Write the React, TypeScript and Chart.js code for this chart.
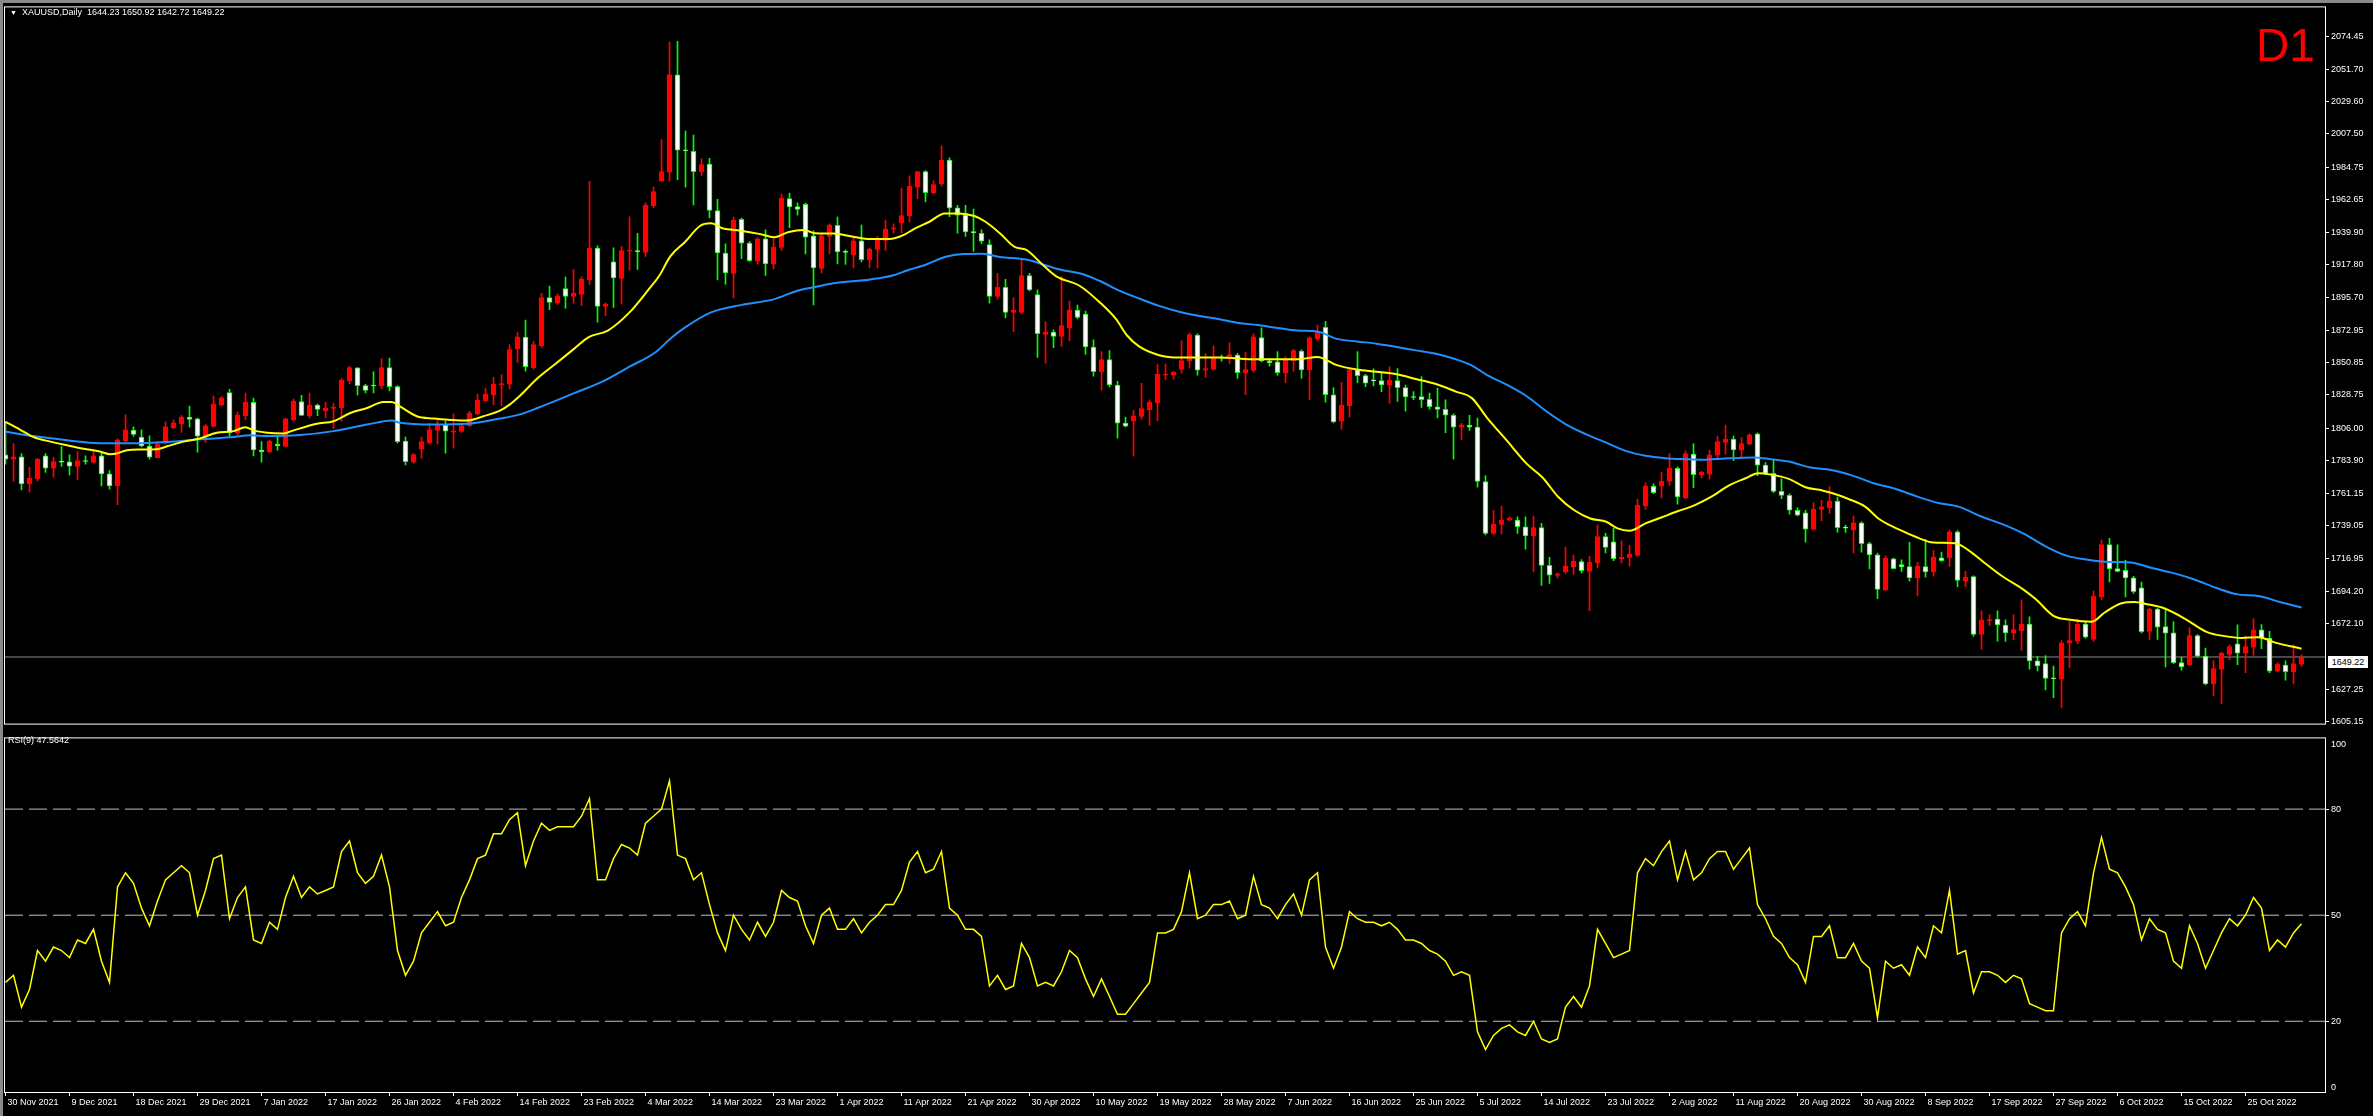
import React, { useEffect, useRef } from 'react';
import { Chart, registerables } from 'chart.js';

Chart.register(...registerables);

// ---------- DATA ----------
const tickLabels = [
  '30 Nov 2021', '9 Dec 2021', '18 Dec 2021', '29 Dec 2021', '7 Jan 2022', '17 Jan 2022', '26 Jan 2022',
  '4 Feb 2022', '14 Feb 2022', '23 Feb 2022', '4 Mar 2022', '14 Mar 2022', '23 Mar 2022', '1 Apr 2022',
  '11 Apr 2022', '21 Apr 2022', '30 Apr 2022', '10 May 2022', '19 May 2022', '28 May 2022', '7 Jun 2022',
  '16 Jun 2022', '25 Jun 2022', '5 Jul 2022', '14 Jul 2022', '23 Jul 2022', '2 Aug 2022', '11 Aug 2022',
  '20 Aug 2022', '30 Aug 2022', '8 Sep 2022', '17 Sep 2022', '27 Sep 2022', '6 Oct 2022', '15 Oct 2022',
  '25 Oct 2022',
];
const barsPerLabel = 8;

const priceTicks = [
  2074.45, 2051.7, 2029.6, 2007.5, 1984.75, 1962.65, 1939.9, 1917.8, 1895.7, 1872.95, 1850.85,
  1828.75, 1806.0, 1783.9, 1761.15, 1739.05, 1716.95, 1694.2, 1672.1, 1627.25, 1605.15,
];

const opens = [
  1787.6, 1784.7, 1786.3, 1767.8, 1771.2, 1786.9, 1778.6, 1783.1, 1782.9, 1779.7, 1783.6, 1782.5, 1786.9, 1774.6, 1766.4, 1797.1, 1804.6, 1799.8, 1793.7, 1785.8,
  1795.8, 1806.2, 1808.9, 1813.6, 1812.3, 1799.8, 1807.1, 1821.7, 1830.3, 1802.8, 1814.5, 1823.6, 1791.0, 1789.7, 1795.1, 1793.5, 1811.8, 1824.2, 1814.5, 1821.7,
  1817.9, 1819.5, 1819.9, 1838.2, 1847.3, 1835.1, 1835.1, 1835.1, 1847.5, 1834.4, 1797.1, 1782.7, 1791.5, 1796.0, 1804.4, 1808.2, 1803.2, 1803.7, 1807.7, 1815.7,
  1824.7, 1828.7, 1835.5, 1836.0, 1860.3, 1868.3, 1847.3, 1862.4, 1895.4, 1891.6, 1901.5, 1896.1, 1897.6, 1907.4, 1929.3, 1889.3, 1919.8, 1908.5, 1927.2, 1927.2,
  1926.3, 1958.2, 1975.1, 1981.2, 2048.0, 1996.3, 1995.6, 1981.6, 1986.8, 1955.0, 1925.9, 1911.9, 1948.9, 1932.7, 1920.7, 1935.6, 1918.2, 1929.7, 1963.1, 1957.7,
  1959.3, 1937.6, 1915.3, 1937.2, 1944.8, 1926.6, 1924.5, 1934.2, 1921.4, 1928.4, 1934.5, 1942.4, 1946.7, 1951.4, 1971.0, 1981.6, 1967.0, 1973.3, 1989.6, 1956.8,
  1951.8, 1940.3, 1939.4, 1931.7, 1896.1, 1902.4, 1885.2, 1885.2, 1910.5, 1897.4, 1870.1, 1871.7, 1868.7, 1874.6, 1886.8, 1884.1, 1861.5, 1844.6, 1852.9, 1835.5,
  1809.4, 1811.1, 1813.9, 1818.6, 1823.3, 1842.3, 1842.3, 1846.1, 1851.8, 1869.6, 1845.7, 1846.1, 1854.3, 1854.0, 1855.9, 1843.9, 1845.5, 1868.0, 1852.0, 1851.3,
  1843.9, 1852.2, 1858.8, 1845.9, 1867.1, 1875.0, 1828.8, 1810.7, 1821.3, 1846.1, 1841.9, 1838.5, 1838.5, 1835.5, 1838.5, 1833.7, 1827.4, 1827.6, 1825.6, 1820.6,
  1818.8, 1814.8, 1806.6, 1808.0, 1806.6, 1769.4, 1733.9, 1740.0, 1742.9, 1742.9, 1738.4, 1732.1, 1737.8, 1712.0, 1705.0, 1707.5, 1710.9, 1714.5, 1707.9, 1713.6,
  1731.7, 1728.0, 1716.3, 1717.4, 1718.8, 1752.7, 1766.2, 1766.2, 1769.4, 1778.4, 1758.1, 1788.1, 1773.9, 1774.5, 1787.4, 1796.2, 1798.5, 1790.8, 1794.9, 1802.1,
  1780.6, 1775.0, 1762.6, 1759.9, 1749.7, 1747.9, 1736.6, 1750.2, 1751.5, 1756.0, 1737.7, 1736.2, 1741.1, 1726.9, 1719.2, 1695.1, 1716.5, 1712.5, 1711.1, 1703.4,
  1711.1, 1707.5, 1717.2, 1717.0, 1735.0, 1701.2, 1704.3, 1664.6, 1674.1, 1675.2, 1671.1, 1665.5, 1667.3, 1671.8, 1646.5, 1644.7, 1634.5, 1634.1, 1658.7, 1660.1,
  1671.8, 1661.2, 1690.6, 1726.2, 1709.7, 1708.6, 1703.4, 1696.6, 1666.8, 1682.0, 1670.0, 1665.7, 1645.4, 1644.0, 1663.9, 1649.9, 1630.7, 1640.9, 1651.0, 1658.3,
  1651.9, 1656.0, 1667.8, 1662.1, 1639.5, 1643.6, 1639.1, 1644.23,
];
const highs = [
  1810.2, 1795.3, 1788.6, 1779.1, 1785.2, 1788.6, 1785.9, 1793.3, 1787.6, 1789.9, 1786.9, 1789.9, 1789.2, 1776.8, 1798.7, 1815.0, 1806.8, 1804.8, 1800.7, 1796.5,
  1810.2, 1811.6, 1814.5, 1821.1, 1812.9, 1808.4, 1828.1, 1827.6, 1832.6, 1817.0, 1829.9, 1826.5, 1796.7, 1797.6, 1801.0, 1812.9, 1825.8, 1828.5, 1829.9, 1822.4,
  1823.8, 1823.1, 1839.9, 1848.2, 1847.5, 1836.0, 1844.6, 1853.6, 1854.0, 1835.1, 1799.8, 1788.6, 1799.8, 1809.3, 1811.1, 1810.7, 1815.7, 1808.4, 1817.5, 1829.2,
  1833.3, 1840.7, 1842.7, 1863.1, 1871.4, 1880.0, 1865.4, 1898.3, 1903.3, 1897.7, 1909.4, 1914.6, 1909.6, 1974.9, 1930.8, 1891.6, 1929.5, 1930.4, 1950.7, 1939.4,
  1960.2, 1971.0, 2003.6, 2070.4, 2070.8, 2009.4, 2006.7, 1990.5, 1990.7, 1962.7, 1932.2, 1950.5, 1949.8, 1933.8, 1936.3, 1941.7, 1937.2, 1966.3, 1967.0, 1960.2,
  1960.0, 1941.0, 1938.7, 1945.8, 1950.5, 1928.1, 1936.0, 1945.1, 1929.3, 1937.2, 1948.4, 1945.8, 1970.4, 1978.7, 1981.9, 1982.3, 1975.3, 1999.3, 1991.1, 1958.6,
  1958.6, 1955.9, 1941.7, 1934.9, 1911.9, 1907.8, 1895.4, 1920.9, 1911.9, 1900.6, 1878.9, 1873.3, 1910.0, 1892.9, 1890.2, 1886.1, 1866.5, 1858.3, 1859.0, 1838.0,
  1813.6, 1818.1, 1836.7, 1825.4, 1849.5, 1850.0, 1844.8, 1865.8, 1871.0, 1870.5, 1857.0, 1862.4, 1855.9, 1864.4, 1857.2, 1858.1, 1870.5, 1874.6, 1853.6, 1858.3,
  1854.7, 1859.9, 1859.5, 1868.5, 1876.6, 1879.1, 1833.7, 1837.3, 1846.8, 1858.3, 1842.8, 1846.6, 1843.9, 1848.0, 1846.8, 1835.5, 1831.0, 1841.2, 1829.9, 1833.3,
  1825.4, 1815.7, 1809.3, 1814.8, 1812.9, 1773.4, 1749.7, 1752.4, 1745.2, 1745.2, 1745.2, 1745.7, 1740.7, 1717.5, 1706.8, 1724.4, 1719.0, 1715.9, 1718.1, 1739.6,
  1733.9, 1737.3, 1728.7, 1725.6, 1757.2, 1768.5, 1767.8, 1775.7, 1788.6, 1779.5, 1790.4, 1795.3, 1776.4, 1790.8, 1800.5, 1808.0, 1800.5, 1799.4, 1802.1, 1802.8,
  1782.4, 1784.0, 1771.2, 1761.0, 1751.3, 1749.7, 1754.9, 1756.5, 1766.0, 1758.7, 1739.5, 1745.9, 1741.8, 1727.8, 1720.4, 1718.5, 1717.0, 1715.8, 1727.8, 1714.0,
  1729.8, 1722.2, 1721.0, 1736.2, 1735.7, 1707.9, 1704.8, 1680.8, 1678.1, 1680.8, 1674.7, 1678.1, 1688.3, 1676.8, 1649.7, 1650.1, 1642.9, 1660.5, 1673.4, 1675.2,
  1672.9, 1694.4, 1729.4, 1730.5, 1726.0, 1715.4, 1704.5, 1700.5, 1682.6, 1682.6, 1682.0, 1673.4, 1649.2, 1669.1, 1664.6, 1655.3, 1646.5, 1652.6, 1657.6, 1671.3,
  1663.5, 1675.6, 1671.4, 1666.8, 1645.2, 1646.5, 1657.6, 1650.92,
];
const lows = [
  1781.3, 1769.6, 1763.7, 1762.1, 1769.8, 1775.7, 1772.3, 1779.7, 1773.9, 1770.5, 1781.3, 1782.0, 1766.4, 1764.2, 1753.6, 1796.7, 1800.5, 1793.1, 1784.7, 1785.6,
  1794.9, 1805.5, 1803.0, 1806.8, 1789.5, 1796.0, 1806.8, 1821.5, 1800.5, 1801.2, 1811.8, 1786.9, 1782.7, 1789.2, 1790.8, 1793.3, 1810.5, 1814.5, 1812.9, 1814.5,
  1813.2, 1805.5, 1810.7, 1836.4, 1828.7, 1830.1, 1830.1, 1832.8, 1831.5, 1795.6, 1780.7, 1782.0, 1785.2, 1794.9, 1794.9, 1788.8, 1792.2, 1803.0, 1807.1, 1815.2,
  1824.2, 1822.0, 1821.3, 1832.8, 1850.9, 1845.0, 1846.4, 1861.3, 1887.0, 1890.7, 1887.9, 1891.6, 1889.8, 1904.4, 1878.5, 1883.0, 1888.6, 1890.9, 1914.1, 1914.6,
  1923.6, 1957.0, 1974.9, 1975.1, 1976.2, 1971.0, 1958.8, 1978.7, 1950.0, 1907.4, 1904.4, 1895.2, 1922.0, 1920.2, 1918.2, 1910.5, 1915.0, 1927.7, 1943.3, 1951.8,
  1925.2, 1890.4, 1912.3, 1925.4, 1918.4, 1918.0, 1915.7, 1919.8, 1915.7, 1915.5, 1927.7, 1939.4, 1939.9, 1947.1, 1963.1, 1960.9, 1966.5, 1971.7, 1950.7, 1939.4,
  1937.2, 1927.0, 1932.2, 1891.6, 1894.3, 1881.4, 1872.1, 1884.1, 1899.9, 1854.3, 1850.5, 1861.1, 1861.9, 1865.8, 1880.7, 1856.5, 1841.6, 1831.9, 1834.2, 1799.0,
  1806.8, 1786.8, 1812.1, 1807.8, 1811.1, 1838.9, 1839.4, 1843.6, 1847.0, 1842.3, 1840.7, 1845.9, 1851.8, 1850.2, 1840.0, 1828.8, 1844.3, 1851.3, 1848.4, 1842.3,
  1837.1, 1845.0, 1840.0, 1825.4, 1866.0, 1823.8, 1809.6, 1805.0, 1813.6, 1837.1, 1834.4, 1834.9, 1831.0, 1823.1, 1824.2, 1817.5, 1825.4, 1820.2, 1819.0, 1812.9,
  1802.8, 1784.7, 1798.3, 1804.4, 1765.5, 1732.8, 1733.2, 1733.5, 1742.5, 1733.9, 1723.1, 1707.5, 1698.2, 1699.6, 1703.4, 1706.2, 1705.7, 1706.8, 1680.9, 1710.2,
  1720.4, 1715.2, 1713.6, 1711.4, 1718.1, 1750.2, 1761.0, 1758.1, 1766.7, 1753.8, 1757.6, 1765.1, 1771.8, 1771.2, 1784.7, 1788.1, 1783.6, 1786.3, 1794.4, 1773.4,
  1774.1, 1761.7, 1757.6, 1747.0, 1745.9, 1727.8, 1736.2, 1742.5, 1747.5, 1734.6, 1734.6, 1720.4, 1721.0, 1709.5, 1689.2, 1694.8, 1709.5, 1707.9, 1701.2, 1691.0,
  1703.9, 1704.5, 1714.7, 1711.3, 1697.3, 1697.3, 1663.5, 1654.4, 1670.7, 1660.1, 1659.8, 1661.0, 1653.7, 1640.9, 1639.7, 1626.6, 1621.4, 1614.7, 1641.8, 1658.3,
  1662.1, 1659.8, 1688.7, 1700.7, 1707.5, 1690.3, 1692.8, 1665.7, 1661.2, 1661.2, 1642.4, 1644.7, 1640.2, 1643.6, 1649.2, 1630.0, 1622.6, 1617.2, 1647.4, 1644.0,
  1638.4, 1650.4, 1654.9, 1638.4, 1639.1, 1633.4, 1630.7, 1642.72,
];
const closes = [
  1784.7, 1786.3, 1767.8, 1771.6, 1784.5, 1778.6, 1783.1, 1782.7, 1779.9, 1783.8, 1783.1, 1786.9, 1774.6, 1766.4, 1798.0, 1804.8, 1801.7, 1793.7, 1786.1, 1794.9,
  1806.8, 1809.6, 1813.6, 1812.0, 1800.5, 1807.5, 1822.4, 1826.7, 1802.8, 1815.0, 1823.8, 1791.0, 1789.7, 1797.1, 1793.7, 1812.3, 1824.5, 1814.7, 1821.7, 1818.8,
  1819.7, 1820.4, 1838.9, 1847.5, 1835.1, 1831.7, 1834.8, 1847.5, 1834.4, 1796.7, 1782.9, 1787.9, 1796.7, 1804.8, 1808.2, 1803.9, 1804.1, 1807.7, 1816.3, 1825.1,
  1829.2, 1836.0, 1836.4, 1859.7, 1868.5, 1848.0, 1863.1, 1895.4, 1892.0, 1896.5, 1896.1, 1898.3, 1907.8, 1929.3, 1889.3, 1890.9, 1908.9, 1927.5, 1927.7, 1926.8,
  1958.6, 1967.9, 1981.6, 2048.0, 1996.3, 1995.9, 1981.6, 1986.4, 1955.0, 1925.9, 1912.3, 1948.4, 1932.7, 1920.7, 1935.6, 1918.4, 1929.9, 1963.4, 1957.5, 1955.7,
  1936.7, 1915.7, 1937.6, 1945.1, 1926.6, 1926.3, 1934.2, 1921.4, 1928.6, 1934.9, 1942.1, 1942.8, 1951.6, 1971.5, 1981.6, 1967.2, 1972.8, 1989.6, 1956.8, 1951.8,
  1940.3, 1939.9, 1934.0, 1896.1, 1902.4, 1885.2, 1886.8, 1910.5, 1900.6, 1870.6, 1871.7, 1868.7, 1876.2, 1886.8, 1881.8, 1861.5, 1844.6, 1852.9, 1835.5, 1809.4,
  1807.3, 1814.3, 1819.3, 1823.8, 1842.8, 1842.8, 1844.1, 1852.2, 1870.1, 1845.7, 1846.8, 1854.3, 1854.0, 1856.3, 1843.9, 1846.1, 1868.5, 1852.0, 1850.7, 1843.9,
  1852.9, 1859.0, 1845.9, 1867.8, 1871.7, 1828.8, 1810.2, 1821.5, 1846.1, 1841.9, 1836.7, 1838.3, 1835.5, 1838.7, 1833.7, 1827.4, 1826.9, 1825.4, 1820.6, 1818.8,
  1814.8, 1806.6, 1808.2, 1806.6, 1769.4, 1733.9, 1740.0, 1742.9, 1744.1, 1738.4, 1732.1, 1737.8, 1712.0, 1705.2, 1706.2, 1711.4, 1714.7, 1708.4, 1714.0, 1731.7,
  1724.2, 1716.5, 1717.4, 1719.7, 1753.1, 1766.2, 1761.7, 1769.6, 1778.4, 1758.8, 1788.5, 1774.1, 1775.7, 1787.6, 1796.7, 1798.5, 1791.0, 1795.3, 1801.4, 1780.6,
  1775.0, 1762.6, 1759.9, 1749.7, 1746.3, 1736.8, 1750.4, 1752.0, 1756.0, 1737.7, 1737.5, 1741.1, 1726.9, 1719.2, 1695.5, 1716.7, 1709.7, 1710.9, 1703.4, 1711.3,
  1707.5, 1717.4, 1715.2, 1735.0, 1701.6, 1703.9, 1664.6, 1674.7, 1674.7, 1671.1, 1665.7, 1668.0, 1671.8, 1646.5, 1643.1, 1634.5, 1634.3, 1658.9, 1660.5, 1671.8,
  1662.8, 1691.0, 1726.2, 1709.5, 1707.9, 1703.4, 1693.9, 1666.6, 1682.0, 1669.6, 1665.5, 1645.4, 1642.4, 1663.9, 1649.7, 1630.7, 1641.3, 1651.7, 1656.4, 1651.9,
  1656.4, 1667.8, 1662.1, 1639.5, 1644.3, 1639.1, 1644.7, 1649.22,
];

// yellow (fast) moving average: [bar, price]
const maFast: [number, number][] = [
  [0, 1810.2], [1.8, 1805.0], [3.5, 1799.8], [5.6, 1796.7], [7.7, 1794.2], [9.75, 1791.9], [11.8, 1789.9], [13.1, 1788.1],
  [13.9, 1788.6], [15.2, 1790.8], [16.8, 1791.3], [18.9, 1791.5], [20.2, 1793.5], [22.25, 1796.7], [24.3, 1798.9], [26.4, 1802.8],
  [28.5, 1803.9], [30, 1806.6], [31, 1804.4], [32.7, 1802.8], [34.75, 1802.3], [36, 1804.4], [38.9, 1808.9], [41, 1810.7],
  [43.1, 1816.3], [45.2, 1819.7], [47.25, 1823.8], [48.3, 1823.8], [49.3, 1820.8], [51.4, 1814.1], [53.5, 1812.5], [55.6, 1811.6],
  [57.7, 1811.1], [59.75, 1814.1], [61.8, 1817.9], [63.1, 1822.4], [64.2, 1827.6], [66.5, 1840.1], [68.8, 1850.2], [71.1, 1860.4],
  [72.9, 1868.3], [75.3, 1872.8], [78, 1885.2], [80.4, 1901.0], [81.7, 1910.1], [83.1, 1923.6], [85, 1933.8], [86.8, 1944.4],
  [88.2, 1946.2], [89.6, 1942.8], [91.9, 1941.2], [94.2, 1939.0], [96.1, 1936.7], [97.9, 1940.3], [99.8, 1941.7], [101.2, 1939.4],
  [103.5, 1939.2], [105.8, 1937.2], [108.1, 1935.4], [110.5, 1935.4], [112.3, 1938.3], [113.7, 1942.8], [115.5, 1947.3], [117.4, 1953.0],
  [119.2, 1953.0], [121.1, 1951.2], [122.5, 1947.3], [124.3, 1939.4], [126.2, 1929.9], [127.6, 1928.1], [129.4, 1919.1], [131.3, 1910.1],
  [134.3, 1903.3], [136.8, 1892.0], [138.8, 1880.7], [140.2, 1869.4], [141.7, 1861.9], [144.2, 1855.9], [146.7, 1854.3], [151.6, 1854.3],
  [156.5, 1853.1], [161.5, 1853.1], [164, 1854.7], [166.4, 1849.1], [168.9, 1846.1], [171.4, 1844.6], [173.9, 1842.8], [176.3, 1839.6],
  [178.8, 1836.2], [181.3, 1831.0], [183.3, 1826.5], [185.2, 1813.0], [187.7, 1797.2], [190.2, 1781.3], [192.1, 1772.3], [194.1, 1758.8],
  [196.1, 1749.7], [198.1, 1744.1], [200.1, 1741.8], [201.5, 1737.3], [203, 1735.7], [205, 1740.7], [206.9, 1744.6], [209, 1749.0],
  [211.1, 1753.1], [213.3, 1759.2], [215.4, 1766.6], [217.5, 1771.6], [219.1, 1775.0], [220.7, 1774.1], [222.9, 1771.2], [225, 1765.5],
  [227.1, 1763.3], [228.2, 1761.7], [230.3, 1757.6], [232.5, 1752.0], [234.1, 1744.1], [236.8, 1736.2], [238.9, 1731.2], [241, 1727.6],
  [243.7, 1727.1], [245.3, 1722.6], [247.4, 1713.6], [249.6, 1704.5], [252.2, 1695.5], [253.8, 1688.7], [256, 1677.4], [258.1, 1674.7],
  [260.8, 1673.4], [262.4, 1679.7], [264.5, 1686.0], [266.1, 1686.9], [267.7, 1685.4], [269.9, 1682.4], [272.5, 1675.2], [275.2, 1666.2],
  [277.4, 1663.5], [279.5, 1662.3], [281.6, 1662.8], [283.8, 1658.9], [287, 1654.9],
];

// blue (slow) moving average: [bar, price]
const maSlow: [number, number][] = [
  [0, 1803.5], [3.5, 1800.5], [7.7, 1797.6], [11.8, 1795.6], [16, 1795.6], [20.2, 1796.5], [24.3, 1798.3], [28.5, 1799.8],
  [30.6, 1801.0], [32.7, 1800.5], [36.8, 1801.2], [41, 1803.9], [45.2, 1808.4], [48.3, 1811.1], [49.3, 1809.6], [53.5, 1808.4],
  [57.7, 1808.9], [61.8, 1812.5], [64.2, 1815.2], [66.5, 1819.7], [71.1, 1829.9], [74.8, 1838.3], [78, 1848.0], [81.3, 1858.1],
  [83.1, 1867.2], [85, 1875.1], [88.2, 1885.2], [91.9, 1890.2], [96.1, 1894.3], [98.9, 1899.9], [101.2, 1902.6], [103.5, 1905.1],
  [108.1, 1907.8], [110.9, 1910.5], [112.8, 1914.1], [115.1, 1918.0], [117.4, 1923.2], [119.7, 1925.2], [122.1, 1925.4], [124.3, 1923.2],
  [127.6, 1921.4], [130.4, 1916.8], [131.8, 1914.6], [134.8, 1911.2], [136.8, 1906.7], [139.3, 1899.9], [141.7, 1894.7], [144.2, 1889.7],
  [146.7, 1885.7], [149.1, 1882.9], [151.6, 1880.7], [154.1, 1878.0], [156.5, 1876.6], [159, 1874.6], [161.5, 1872.8], [164, 1872.1],
  [166.4, 1867.1], [168.9, 1865.3], [171.4, 1863.8], [173.9, 1861.5], [176.3, 1859.2], [178.8, 1856.9], [181.3, 1853.1], [183.2, 1849.1],
  [185.2, 1842.3], [187.7, 1835.5], [190.2, 1827.6], [192.6, 1817.5], [195.1, 1808.4], [197.6, 1801.7], [200.1, 1796.0], [202.5, 1790.4],
  [205, 1787.0], [207.5, 1785.4], [210, 1784.7], [212.2, 1784.3], [214.9, 1785.2], [218.6, 1785.9], [220.7, 1784.7], [222.9, 1783.1],
  [225.5, 1779.1], [228.2, 1777.3], [230.9, 1773.4], [233.5, 1768.2], [236.2, 1764.4], [238.9, 1759.2], [241.6, 1754.7], [244.2, 1752.0],
  [246.9, 1745.6], [249.6, 1740.2], [252.2, 1733.9], [254.9, 1725.3], [257.6, 1718.6], [260.3, 1715.8], [262.9, 1714.3], [265.6, 1714.0],
  [268.3, 1710.2], [270.9, 1706.8], [273.6, 1702.3], [276.3, 1696.6], [279, 1692.1], [281.6, 1691.0], [284.3, 1686.9], [287, 1683.1],
];

// RSI(9), one value per bar
const rsiValues = [
  31, 33, 24, 29, 40, 37, 41, 40, 38, 43, 42, 46, 37, 31, 58, 62, 59, 52, 47, 54,
  60, 62, 64, 62, 50, 57, 66, 67, 49, 55, 58, 43, 42, 48, 46, 55, 61, 55, 58, 56,
  57, 58, 68, 71, 62, 59, 61, 67, 58, 40, 33, 37, 45, 48, 51, 47, 48, 55, 60, 66,
  67, 73, 73, 77, 79, 64, 71, 76, 74, 75, 75, 75, 78, 83, 60, 60, 66, 70, 69, 67,
  76, 78, 80, 88, 67, 66, 60, 62, 53, 45, 40, 50, 46, 43, 48, 44, 48, 57, 55, 54,
  47, 42, 50, 52, 46, 46, 49, 45, 48, 50, 53, 53, 57, 65, 68, 62, 63, 68, 52, 50,
  46, 46, 44, 30, 33, 29, 30, 42, 38, 30, 31, 30, 34, 40, 38, 32, 27, 32, 27, 22,
  22, 25, 28, 31, 45, 45, 46, 51, 62, 49, 50, 53, 53, 54, 49, 50, 61, 53, 52, 49,
  53, 56, 50, 60, 62, 41, 35, 41, 51, 49, 48, 48, 47, 48, 46, 43, 43, 42, 40, 39,
  37, 33, 34, 33, 17, 12, 16, 18, 19, 17, 16, 20, 15, 14, 15, 24, 27, 24, 30, 46,
  42, 38, 39, 40, 62, 66, 64, 68, 71, 60, 68, 60, 62, 66, 68, 68, 63, 66, 69, 53,
  49, 44, 42, 38, 36, 31, 44, 44, 47, 38, 38, 42, 37, 35, 21, 37, 35, 36, 33, 41,
  38, 47, 45, 57, 39, 40, 28, 34, 34, 33, 31, 33, 32, 25, 24, 23, 23, 45, 49, 51,
  47, 62, 72, 63, 62, 58, 53, 43, 49, 46, 45, 37, 35, 47, 42, 35, 40, 45, 49, 47,
  50, 55, 52, 40, 43, 41, 45, 47.56,
];
const rsiLevels = [20, 50, 80];
const rsiAxisTicks = [100, 80, 50, 20, 0];

const lastPrice = 1649.22;
const headerText = 'XAUUSD,Daily  1644.23 1650.92 1642.72 1649.22';
const rsiText = 'RSI(9) 47.5642';

// ---------- LAYOUT / STYLE ----------
const W = 2373;
const H = 1116;
const AREA_LEFT = 5;
const AREA_RIGHT = 2325;
const AXIS_W = W - AREA_RIGHT;
const PX_PER_BAR = 8;
const X_MIN = -0.0625;
const X_MAX = X_MIN + (AREA_RIGHT - AREA_LEFT) / PX_PER_BAR;
const Y_MIN = 1603.59;
const Y_MAX = 2094.1;
const MAIN_H = 731;
const RSI_TOP = 731;
const RSI_H = H - RSI_TOP;
const FONT = "'Liberation Sans', Arial, sans-serif";
const RED = '#ff0000';
const LIME = '#00ff00';

const framePlugin = {
  id: 'frame',
  afterDraw(chart: any) {
    const { ctx, chartArea: a } = chart;
    ctx.save();
    ctx.strokeStyle = '#ffffff';
    ctx.lineWidth = 1;
    ctx.strokeRect(a.left - 0.5, a.top - 0.5, a.right - a.left + 1, a.bottom - a.top + 1);
    ctx.restore();
  },
};

function mainConfig(): any {
  const idx = closes.map((_, i) => i);
  const up = idx.map((i) => closes[i] >= opens[i]);
  return {
    type: 'bar',
    data: {
      datasets: [
        {
          type: 'line',
          data: [{ x: X_MIN - 1, y: lastPrice }, { x: X_MAX + 1, y: lastPrice }],
          borderColor: '#8c8c8c',
          borderWidth: 1,
          pointRadius: 0,
          order: 6,
        },
        {
          type: 'bar',
          data: idx.map((i) => ({ x: i, y: [lows[i], highs[i]] })),
          backgroundColor: up.map((u) => (u ? RED : LIME)),
          borderWidth: 0,
          barThickness: 1,
          grouped: false,
          order: 5,
        },
        {
          type: 'bar',
          data: idx.map((i) => ({ x: i, y: [opens[i], closes[i]] })),
          backgroundColor: up.map((u) => (u ? RED : '#ffffff')),
          borderColor: up.map((u) => (u ? RED : LIME)),
          borderWidth: 1,
          borderSkipped: false,
          barThickness: 5,
          minBarLength: 1,
          grouped: false,
          order: 4,
        },
        {
          type: 'line',
          data: maSlow.map(([x, y]) => ({ x, y })),
          borderColor: '#1e90ff',
          borderWidth: 2,
          pointRadius: 0,
          cubicInterpolationMode: 'monotone',
          order: 2,
        },
        {
          type: 'line',
          data: maFast.map(([x, y]) => ({ x, y })),
          borderColor: '#ffff00',
          borderWidth: 2,
          pointRadius: 0,
          cubicInterpolationMode: 'monotone',
          order: 1,
        },
      ],
    },
    options: {
      responsive: false,
      animation: false,
      devicePixelRatio: 1,
      events: [],
      layout: { padding: { left: AREA_LEFT, top: 5, right: 0, bottom: MAIN_H - 729 } },
      plugins: { legend: { display: false }, tooltip: { enabled: false }, title: { display: false } },
      scales: {
        x: { type: 'linear', min: X_MIN, max: X_MAX, display: false, offset: false },
        y: {
          type: 'linear',
          position: 'right',
          min: Y_MIN,
          max: Y_MAX,
          afterFit(s: any) { s.width = AXIS_W; },
          afterBuildTicks(s: any) { s.ticks = priceTicks.map((v) => ({ value: v })); },
          grid: { drawOnChartArea: false, color: '#ffffff', tickLength: 4 },
          border: { display: false },
          ticks: {
            autoSkip: false,
            color: '#ffffff',
            padding: 2,
            font: { family: FONT, size: 9 },
            callback: (v: any) => Number(v).toFixed(2),
          },
        },
      },
    },
    plugins: [framePlugin],
  };
}

function rsiConfig(): any {
  return {
    type: 'line',
    data: {
      datasets: [
        ...rsiLevels.map((lv) => ({
          data: [{ x: X_MIN, y: lv }, { x: X_MAX, y: lv }],
          borderColor: '#c0c0c0',
          borderWidth: 1,
          borderDash: [18, 6],
          pointRadius: 0,
          order: 3,
        })),
        {
          data: rsiValues.map((v, i) => ({ x: i, y: v })),
          borderColor: '#ffff00',
          borderWidth: 1.5,
          pointRadius: 0,
          tension: 0,
          order: 1,
        },
      ],
    },
    options: {
      responsive: false,
      animation: false,
      devicePixelRatio: 1,
      events: [],
      layout: { padding: { left: AREA_LEFT, top: 1, right: 0, bottom: 0 } },
      plugins: { legend: { display: false }, tooltip: { enabled: false } },
      scales: {
        x: {
          type: 'linear',
          min: X_MIN,
          max: X_MAX,
          offset: false,
          afterFit(s: any) { s.height = 24; },
          afterBuildTicks(s: any) { s.ticks = tickLabels.map((_, k) => ({ value: k * barsPerLabel })); },
          grid: { drawOnChartArea: false, color: '#ffffff', tickLength: 4 },
          border: { display: false },
          ticks: {
            autoSkip: false,
            maxRotation: 0,
            minRotation: 0,
            align: 'start',
            labelOffset: 2,
            padding: 1,
            color: '#ffffff',
            font: { family: FONT, size: 9 },
            callback: (v: any) => tickLabels[Math.round(Number(v) / barsPerLabel)] ?? '',
          },
        },
        y: {
          type: 'linear',
          position: 'right',
          min: 0,
          max: 100,
          afterFit(s: any) { s.width = AXIS_W; },
          afterBuildTicks(s: any) {
            s.ticks = rsiAxisTicks.map((v) => ({ value: v === 100 ? 98.4 : v === 0 ? 1.4 : v }));
          },
          grid: {
            drawOnChartArea: false,
            tickLength: 4,
            color: (c: any) => (c.tick && rsiLevels.includes(c.tick.value) ? '#ffffff' : 'rgba(0,0,0,0)'),
          },
          border: { display: false },
          ticks: {
            autoSkip: false,
            color: '#ffffff',
            padding: 2,
            font: { family: FONT, size: 9 },
            callback: (v: any) => {
              const n2 = Number(v);
              return n2 > 95 ? '100' : n2 < 5 ? '0' : String(Math.round(n2));
            },
          },
        },
      },
    },
    plugins: [framePlugin],
  };
}

export default function App() {
  const mainRef = useRef<HTMLCanvasElement>(null);
  const rsiRef = useRef<HTMLCanvasElement>(null);

  useEffect(() => {
    const main = new Chart(mainRef.current as HTMLCanvasElement, mainConfig());
    const rsi = new Chart(rsiRef.current as HTMLCanvasElement, rsiConfig());
    return () => {
      main.destroy();
      rsi.destroy();
    };
  }, []);

  const txt: React.CSSProperties = {
    position: 'absolute',
    color: '#ffffff',
    fontFamily: FONT,
    fontSize: 9,
    lineHeight: '11px',
    whiteSpace: 'pre',
  };

  return (
    <div style={{ position: 'fixed', left: 0, top: 0, width: W, height: H, background: '#000', overflow: 'hidden' }}>
      <canvas ref={mainRef} width={W} height={MAIN_H} style={{ position: 'absolute', left: 0, top: 0 }} />
      <canvas ref={rsiRef} width={W} height={RSI_H} style={{ position: 'absolute', left: 0, top: RSI_TOP }} />
      <div style={{ position: 'absolute', left: 0, top: 0, width: W, height: 3, background: '#8a8a8a' }} />
      <div style={{ position: 'absolute', left: 0, top: 0, width: 3, height: H, background: '#8a8a8a' }} />
      <div style={{ ...txt, left: 10, top: 7 }}>
        <span style={{ fontSize: 7 }}>▼</span>
        {'  ' + headerText}
      </div>
      <div style={{ ...txt, left: 8, top: 735 }}>{rsiText}</div>
      <div
        style={{
          position: 'absolute',
          left: 2256,
          top: 22,
          color: RED,
          fontFamily: FONT,
          fontSize: 46,
          lineHeight: '46px',
        }}
      >
        D1
      </div>
      <div
        style={{
          position: 'absolute',
          left: 2328,
          top: 656,
          width: 40,
          height: 12,
          background: '#ffffff',
          color: '#000000',
          fontFamily: FONT,
          fontSize: 9,
          lineHeight: '12px',
          textAlign: 'center',
        }}
      >
        {lastPrice.toFixed(2)}
      </div>
    </div>
  );
}
